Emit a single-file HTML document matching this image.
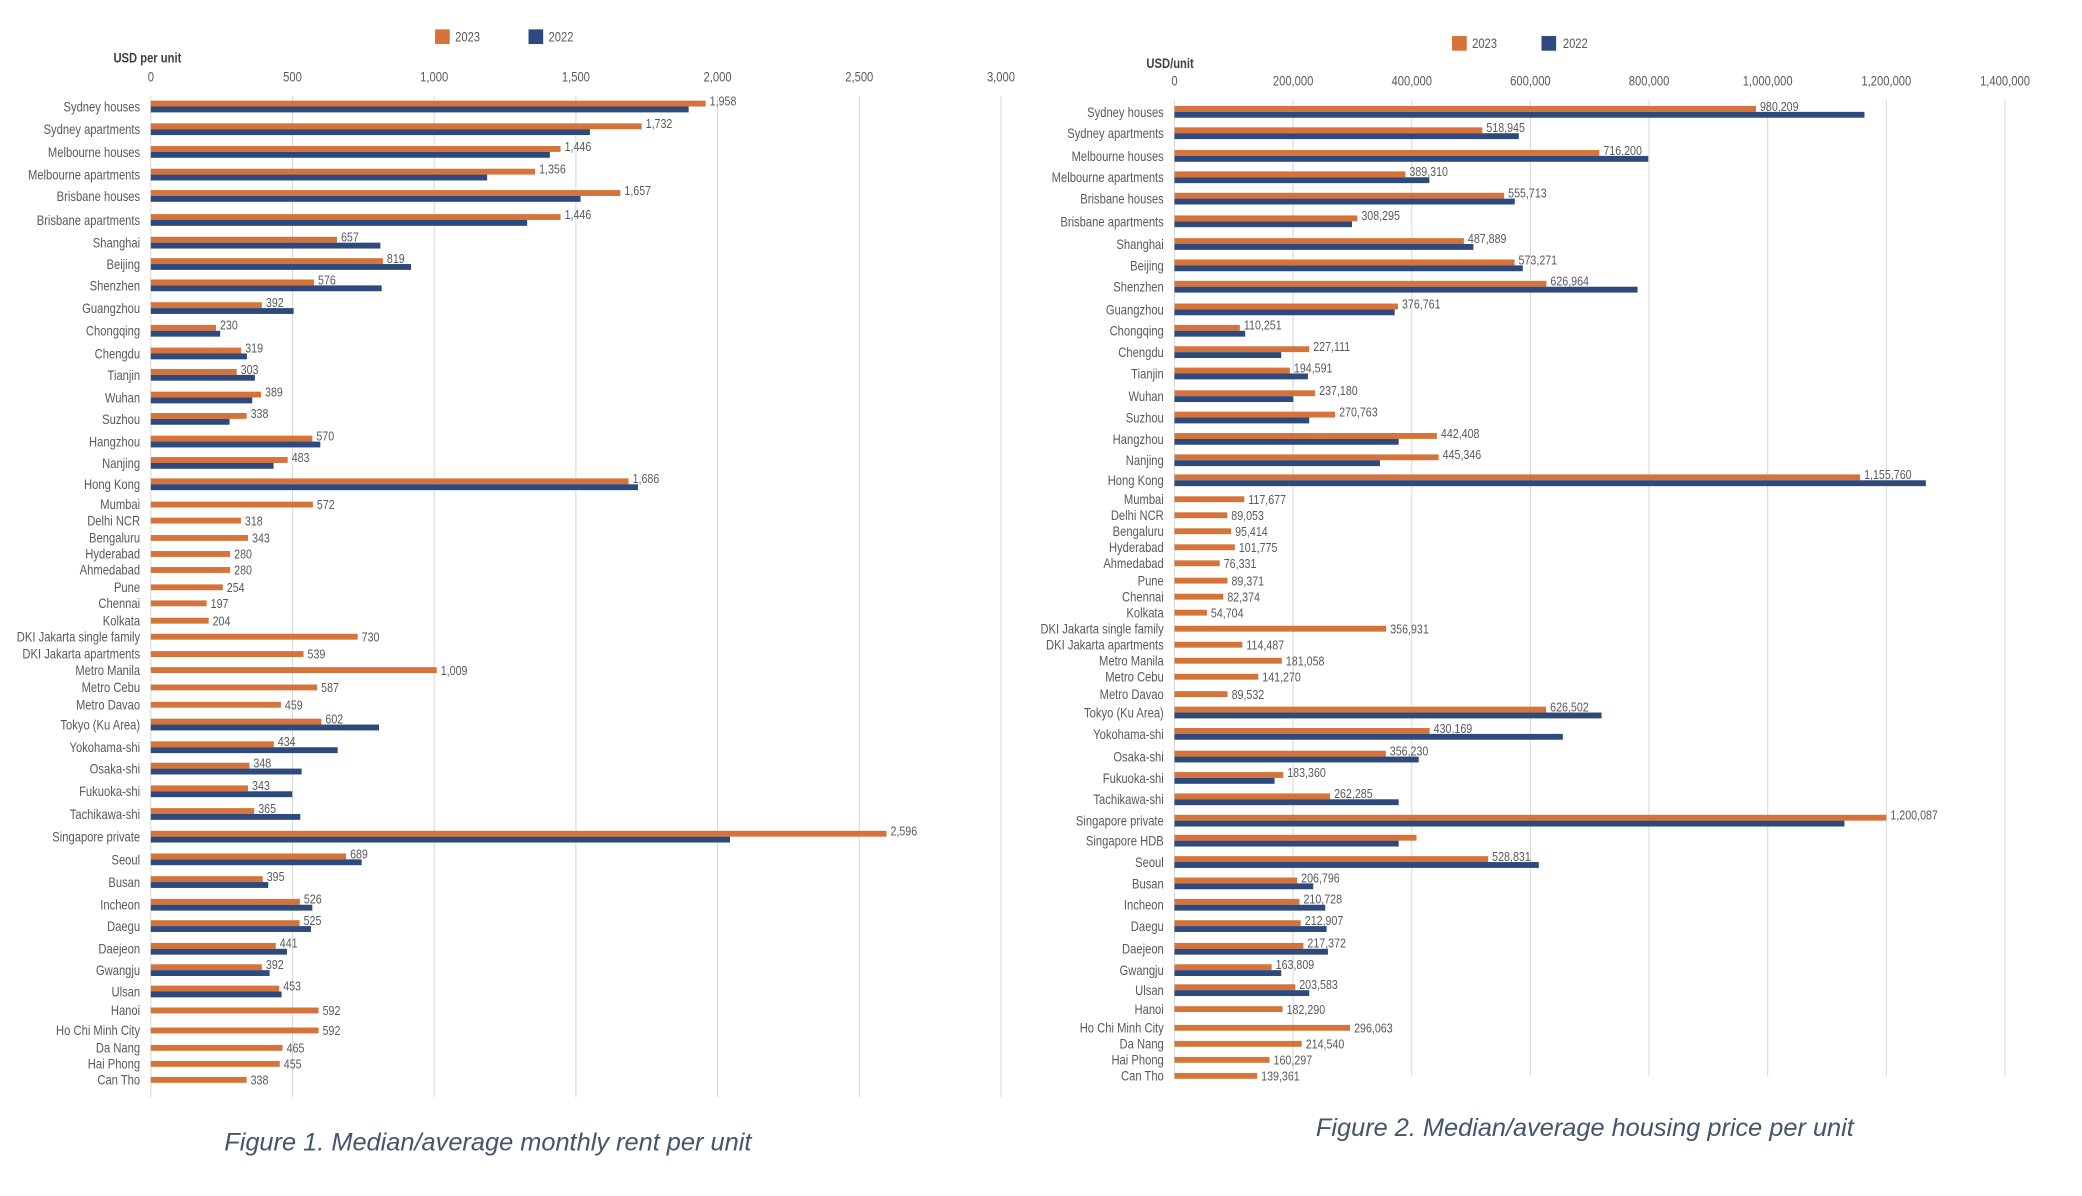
<!DOCTYPE html>
<html><head><meta charset="utf-8"><style>
html,body{margin:0;padding:0;background:#fff;width:2082px;height:1196px;overflow:hidden}
svg{display:block}
text{font-family:"Liberation Sans Narrow","Liberation Sans",sans-serif;fill:#595959}
</style></head><body>
<svg id="s" width="2082" height="1196" viewBox="0 0 1560 896" preserveAspectRatio="none" xmlns="http://www.w3.org/2000/svg">
<rect width="1560" height="896" fill="#fff"/>
<g id="g"></g>
<text x="168" y="862" textLength="395" lengthAdjust="spacingAndGlyphs" style="font-family:'Liberation Sans',sans-serif;font-style:italic;font-size:19px;fill:#44546a">Figure 1. Median/average monthly rent per unit</text>
<text x="986" y="851" textLength="403" lengthAdjust="spacingAndGlyphs" style="font-family:'Liberation Sans',sans-serif;font-style:italic;font-size:19px;fill:#44546a">Figure 2. Median/average housing price per unit</text>
</svg>
<script>
var g=document.getElementById('g'),NS='http://www.w3.org/2000/svg',O='#d6733a',B='#2e4a7c';
function el(t,a,tx){var e=document.createElementNS(NS,t);
if(t==='text'){var x=a.x,y=a.y;delete a.x;delete a.y;a.x=0;a.y=0;a.transform='translate('+x+','+y+') scale(0.8,1)';}
for(var k in a)e.setAttribute(k,a[k]);if(tx!=null)e.textContent=tx;g.appendChild(e);return e;}
function fmt(v){return v.toLocaleString('en-US');}
var L0=113,LS=637/3000;
for(var i=0;i<=6;i++){var x=L0+i*500*LS;el('line',{x1:x,y1:72,x2:x,y2:822,stroke:'#d9d9d9','stroke-width':0.8});
el('text',{x:x,y:61,'font-size':10.5,'text-anchor':'middle'},fmt(i*500));}
el('text',{x:85,y:47,'font-size':10.5,'font-weight':'bold',style:'fill:#404040'},'USD per unit');
el('rect',{x:326,y:22,width:11,height:11,fill:O});el('text',{x:341,y:31,'font-size':10.5},'2023');
el('rect',{x:396,y:22,width:11,height:11,fill:B});el('text',{x:411,y:31,'font-size':10.5},'2022');
var LD=[["Sydney houses",80,1958,516],["Sydney apartments",97,1732,442],["Melbourne houses",114,1446,412],["Melbourne apartments",131,1356,365],["Brisbane houses",147,1657,435],["Brisbane apartments",165,1446,395],["Shanghai",182,657,285],["Beijing",198,819,308],["Shenzhen",214,576,286],["Guangzhou",231,392,220],["Chongqing",248,230,165],["Chengdu",265,319,185],["Tianjin",281,303,191],["Wuhan",298,389,189],["Suzhou",314,338,172],["Hangzhou",331,570,240],["Nanjing",347,483,205],["Hong Kong",363,1686,478],["Mumbai",378,572],["Delhi NCR",390,318],["Bengaluru",403,343],["Hyderabad",415,280],["Ahmedabad",427,280],["Pune",440,254],["Chennai",452,197],["Kolkata",465,204],["DKI Jakarta single family",477,730],["DKI Jakarta apartments",490,539],["Metro Manila",502,1009],["Metro Cebu",515,587],["Metro Davao",528,459],["Tokyo (Ku Area)",543,602,284],["Yokohama-shi",560,434,253],["Osaka-shi",576,348,226],["Fukuoka-shi",593,343,219],["Tachikawa-shi",610,365,225],["Singapore private",627,2596,547],["Seoul",644,689,271],["Busan",661,395,201],["Incheon",678,526,234],["Daegu",694,525,233],["Daejeon",711,441,215],["Gwangju",727,392,202],["Ulsan",743,453,211],["Hanoi",757,592],["Ho Chi Minh City",772,592],["Da Nang",785,465],["Hai Phong",797,455],["Can Tho",809,338]];
function rows(D,X0,S,LX){D.forEach(function(d){var y=d[1],w=d[2]*S;
el('text',{x:LX,y:y+3.5,'font-size':10.5,'text-anchor':'end'},d[0]);
if(d.length>3){el('rect',{x:X0,y:y-4.6,width:w,height:4.4,fill:O});el('rect',{x:X0,y:y-0.2,width:d[3]-X0,height:4.4,fill:B});
if(d[4]!==0)el('text',{x:X0+w+3,y:y-1,'font-size':10},fmt(d[2]));}
else{el('rect',{x:X0,y:y-2.2,width:w,height:4.4,fill:O});el('text',{x:X0+w+3,y:y+3.5,'font-size':10},fmt(d[2]));}
});}
rows(LD,L0,LS,105);
var R0=880,RS=88.9/200000;
for(var i=0;i<=7;i++){var x=R0+i*200000*RS;el('line',{x1:x,y1:75,x2:x,y2:806,stroke:'#d9d9d9','stroke-width':0.8});
el('text',{x:x,y:64,'font-size':10.5,'text-anchor':'middle'},fmt(i*200000));}
el('text',{x:859,y:51,'font-size':10.5,'font-weight':'bold',style:'fill:#404040'},'USD/unit');
el('rect',{x:1088,y:27,width:11,height:11,fill:O});el('text',{x:1103,y:36,'font-size':10.5},'2023');
el('rect',{x:1155,y:27,width:11,height:11,fill:B});el('text',{x:1171,y:36,'font-size':10.5},'2022');
var RD=[["Sydney houses",84,980209,1397],["Sydney apartments",100,518945,1138],["Melbourne houses",117,716200,1235],["Melbourne apartments",133,389310,1071],["Brisbane houses",149,555713,1135],["Brisbane apartments",166,308295,1013],["Shanghai",183,487889,1104],["Beijing",199,573271,1141],["Shenzhen",215,626964,1227],["Guangzhou",232,376761,1045],["Chongqing",248,110251,933],["Chengdu",264,227111,960],["Tianjin",280,194591,980],["Wuhan",297,237180,969],["Suzhou",313,270763,981],["Hangzhou",329,442408,1048],["Nanjing",345,445346,1034],["Hong Kong",360,1155760,1443],["Mumbai",374,117677],["Delhi NCR",386,89053],["Bengaluru",398,95414],["Hyderabad",410,101775],["Ahmedabad",422,76331],["Pune",435,89371],["Chennai",447,82374],["Kolkata",459,54704],["DKI Jakarta single family",471,356931],["DKI Jakarta apartments",483,114487],["Metro Manila",495,181058],["Metro Cebu",507,141270],["Metro Davao",520,89532],["Tokyo (Ku Area)",534,626502,1200],["Yokohama-shi",550,430169,1171],["Osaka-shi",567,356230,1063],["Fukuoka-shi",583,183360,955],["Tachikawa-shi",599,262285,1048],["Singapore private",615,1200087,1382],["Singapore HDB",630,408000,1048,0],["Seoul",646,528831,1153],["Busan",662,206796,984],["Incheon",678,210728,993],["Daegu",694,212907,994],["Daejeon",711,217372,995],["Gwangju",727,163809,960],["Ulsan",742,203583,981],["Hanoi",756,182290],["Ho Chi Minh City",770,296063],["Da Nang",782,214540],["Hai Phong",794,160297],["Can Tho",806,139361]];
rows(RD,R0,RS,872);
</script>
</body></html>
